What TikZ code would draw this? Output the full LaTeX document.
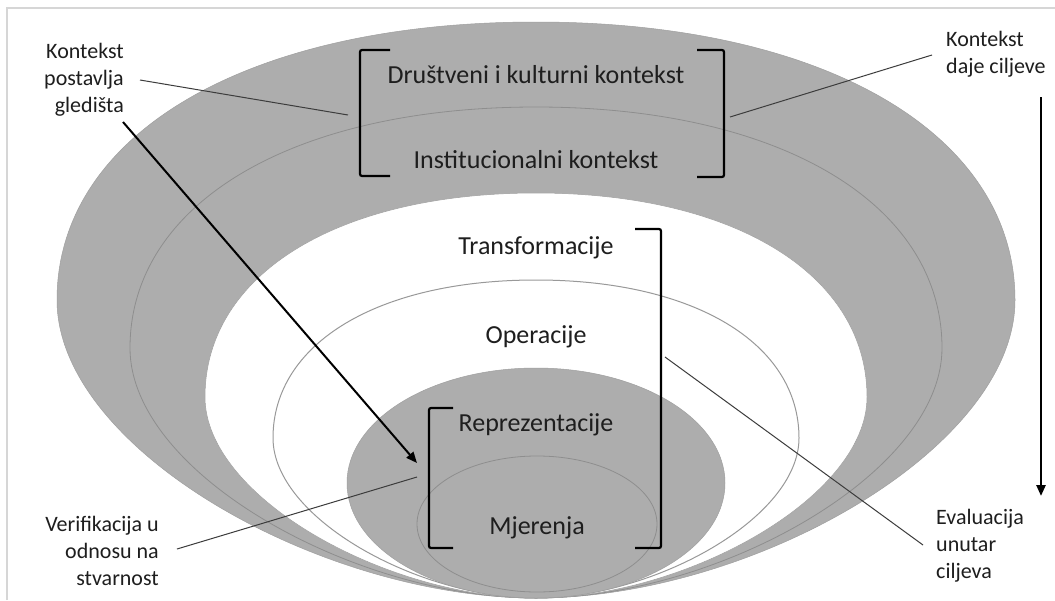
\documentclass[tikz,border=0pt]{standalone}
\usepackage{fontspec}
\setmainfont{Carlito}
\usetikzlibrary{arrows.meta}
\definecolor{band}{HTML}{ADADAD}
\definecolor{ring}{HTML}{8E8E8E}
\definecolor{ink}{HTML}{1E1E1E}
\definecolor{lead}{HTML}{3C3C3C}
\definecolor{frame}{HTML}{D6D6D6}
\newcommand\funnelpath[3]{%
 (536,#2) .. controls ({536-0.6*#1},#2) and ({536-#1},{#3-0.6*(#3-#2)}) .. ({536-#1},#3)
 .. controls ({536-#1},{#3+0.5*(598-#3)}) and ({536-0.45*#1},598) .. (536,598)
 .. controls ({536+0.45*#1},598) and ({536+#1},{#3+0.5*(598-#3)}) .. ({536+#1},#3)
 .. controls ({536+#1},{#3-0.6*(#3-#2)}) and ({536+0.6*#1},#2) .. cycle}
\begin{document}
\begin{tikzpicture}[x=1pt,y=-1pt,
  maintext/.style={text=ink,font=\fontsize{26}{31}\selectfont,inner sep=0pt},
  sidetext/.style={text=ink,font=\fontsize{22}{27}\selectfont,inner sep=0pt},
  brk/.style={draw=black,line width=2.2pt,rounded corners=2pt},
  leadline/.style={draw=lead,line width=1pt},
  arr/.style={draw=black,line width=2pt,-{Triangle[length=11pt,width=9pt]}},
  ringline/.style={draw=ring,line width=0.8pt}]
\useasboundingbox (0,0) rectangle (1055,600);
\fill[white] (0,0) rectangle (1055,600);
\draw[frame,line width=1.2pt] (7,600) -- (7,8) -- (1055,8);
% nested shapes
\path[fill=band,draw=band!92!black,line width=0.5pt] \funnelpath{479}{22}{300};
\path[ringline] \funnelpath{406}{107}{348};
\path[fill=white,draw=band!92!black,line width=0.5pt] \funnelpath{331}{193}{397};
\path[draw=ring!90!white,line width=1pt] \funnelpath{263}{280}{438};
\path[fill=band,draw=band!92!black,line width=0.5pt] (536,483) ellipse [x radius=189,y radius=115];
\path[ringline] (537,524) ellipse [x radius=120,y radius=68];
% brackets
\draw[brk] (390,50) -- (360,50) -- (360,176) -- (390,176);
\draw[brk] (697,50) -- (724,50) -- (724,177) -- (697,177);
\draw[brk] (635,229) -- (661,229) -- (661,548) -- (635,548);
\draw[brk] (453,408) -- (429,408) -- (429,548) -- (453,548);
% main texts
\node[maintext] (dk) at (536,75) {Društveni i kulturni kontekst};
\node[maintext] (ik) at (536,160) {Institucionalni kontekst};
\node[maintext] (tr) at (536,248) {Transformacije};
\node[maintext] (op) at (536,337) {Operacije};
\node[maintext] (rp) at (536,425) {Reprezentacije};
\node[maintext] (mj) at (537,528) {Mjerenja};
% side labels
\node[sidetext,align=right,anchor=east] (kp) at (124,80) {Kontekst\\postavlja\\gledišta};
\node[sidetext,align=left,anchor=west] (kc) at (946,54) {Kontekst\\daje ciljeve};
\node[sidetext,align=right,anchor=east] (vr) at (159,551) {Verifikacija u\\odnosu na\\stvarnost};
\node[sidetext,align=left,anchor=west] (ev) at (936,546) {Evaluacija\\unutar\\ciljeva};
% connector end points
\coordinate (kpA) at (140,80);
\coordinate (kpB) at (348,115);
\coordinate (kcA) at (932,55);
\coordinate (kcB) at (730,117);
\coordinate (vrA) at (177,549);
\coordinate (vrB) at (417,477);
\coordinate (evA) at (923,545);
\coordinate (evB) at (665,357);
\coordinate (dgA) at (123,122);
\coordinate (dgB) at (417,463);
\coordinate (vtA) at (1041,97);
\coordinate (vtB) at (1041,496);
% connectors
\draw[leadline] (kpA) -- (kpB);
\draw[leadline] (kcA) -- (kcB);
\draw[leadline] (vrA) -- (vrB);
\draw[leadline] (evA) -- (evB);
\draw[arr] (dgA) -- (dgB);
\draw[arr,line width=2.4pt] (vtA) -- (vtB);
\end{tikzpicture}
\end{document}
